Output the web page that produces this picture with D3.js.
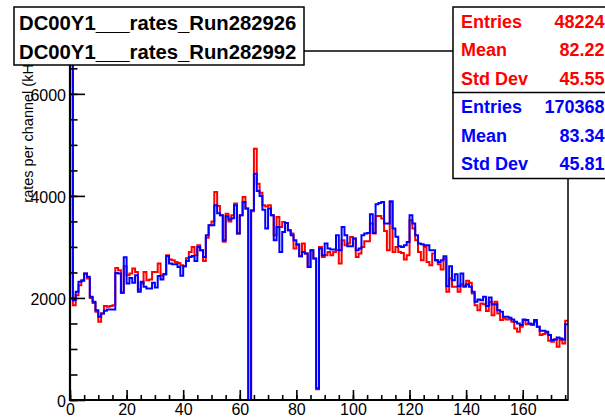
<!DOCTYPE html>
<html>
<head>
<meta charset="utf-8">
<script src="https://cdn.jsdelivr.net/npm/d3@7"></script>
<style>
  body { margin: 0; background: #fff; }
  svg { display: block; font-family: 'Liberation Sans', Arial, Helvetica, sans-serif; }
</style>
</head>
<body>
<div id="chart"></div>
<script>
// rates per channel, one value per channel (0..175)
const redRates = [
  6600, 1859, 2055, 2250, 2330, 2479, 2380, 2000, 1900, 1728,
  1533, 1696, 1840, 1826, 1840, 1859, 2589, 2544, 2100, 2620,
  2446, 2479, 2577, 2511, 2166, 2283, 2511, 2348, 2361, 2511,
  2511, 2675, 2440, 2466, 2838, 2752, 2740, 2707, 2687, 2642,
  2622, 2780, 2902, 2999, 2838, 3033, 2935, 2726, 3180, 3425,
  3500, 4077, 3800, 3620, 3100, 3650, 3500, 3620, 3850, 3262,
  3620, 3979, 3751, 0, 3700, 4925, 4240, 4060, 3816, 3790,
  3816, 3620, 3229, 3588, 3392, 3490, 3470, 3327, 3262, 2968,
  3046, 2818, 3066, 2870, 2609, 2935, 2772, 209, 3001, 2805,
  2838, 2903, 2838, 2903, 2935, 2675, 3131, 3033, 3066, 3196,
  3164, 2805, 2870, 3001, 3112, 3112, 3457, 3262, 3607, 3607,
  3555, 3314, 2935, 3881, 2903, 3000, 2903, 2883, 2753, 2838,
  3523, 3360, 3131, 2903, 2740, 3001, 2707, 2642, 2870, 2740,
  2662, 2557, 2772, 2120, 2381, 2218, 2218, 2120, 2270, 2218,
  2335, 2296, 2088, 1859, 1761, 1892, 1879, 1742, 1924, 1663,
  1924, 1696, 1566, 1598, 1578, 1578, 1533, 1402, 1337, 1435,
  1566, 1487, 1487, 1468, 1533, 1435, 1272, 1292, 1318, 1161,
  1142, 1187, 1044, 1174, 1109, 1553
];
const blueRates = [
  7500, 1957, 2120, 2316, 2348, 2479, 2414, 2022, 1924, 1761,
  1631, 1696, 1748, 1774, 1774, 1774, 2491, 2479, 2100, 2800,
  2283, 2393, 2296, 2446, 2120, 2316, 2218, 2185, 2185, 2296,
  2205, 2430, 2361, 2466, 2824, 2675, 2661, 2661, 2609, 2433,
  2622, 2726, 2805, 2824, 2726, 3000, 2935, 2805, 3229, 3425,
  3425, 3816, 3659, 3620, 3131, 3600, 3540, 3560, 3816, 3262,
  3620, 3880, 3751, 0, 3720, 4436, 4096, 4000, 3731, 3360,
  3751, 3620, 3131, 3392, 2903, 3294, 3470, 3327, 3229, 3131,
  3046, 2818, 2903, 2870, 2609, 2935, 2772, 228, 2968, 2838,
  3066, 2968, 2949, 2949, 3229, 2935, 3392, 3229, 3014, 3014,
  3164, 2935, 2968, 3229, 3262, 3275, 3640, 3275, 3836, 3862,
  3881, 3457, 3457, 3894, 3360, 3200, 3014, 3001, 3033, 3098,
  3620, 3457, 3229, 3066, 3053, 3033, 3033, 2935, 2935, 2740,
  2707, 2740, 2818, 2231, 2622, 2348, 2466, 2231, 2479, 2231,
  2270, 2218, 2120, 1924, 1970, 1957, 2022, 1840, 2009, 1872,
  1879, 1761, 1729, 1631, 1631, 1611, 1578, 1533, 1500, 1468,
  1578, 1566, 1500, 1487, 1566, 1435, 1357, 1357, 1337, 1272,
  1174, 1187, 1226, 1207, 1187, 1487
];
const xMajorTicks = [0, 20, 40, 60, 80, 100, 120, 140, 160];
const yMajorTicks = [0, 2000, 4000, 6000];
const titleLines = ['DC00Y1___rates_Run282926', 'DC00Y1___rates_Run282992'];
const redStats = [['Entries', '48224'], ['Mean', '82.22'], ['Std Dev', '45.55']];
const blueStats = [['Entries', '170368'], ['Mean', '83.34'], ['Std Dev', '45.81']];
const yTitle = 'rates per channel (kHz)';

const W = 605, H = 420;
const frame = { left: 70, right: 568, top: 51, bottom: 400 };
const nBins = redRates.length;
const yMax = 6840;

const svg = d3.select('#chart').append('svg').attr('width', W).attr('height', H);

const x = d3.scaleLinear().domain([0, nBins]).range([frame.left, frame.right]);
const y = d3.scaleLinear().domain([0, yMax]).range([frame.bottom, frame.top]);

// clip to the frame
svg.append('clipPath').attr('id', 'frame-clip')
  .append('rect')
  .attr('x', frame.left).attr('y', frame.top)
  .attr('width', frame.right - frame.left).attr('height', frame.bottom - frame.top);

// histograms as step outlines
const stepLine = d3.line()
  .x((d) => x(d[0]))
  .y((d) => y(d[1]))
  .curve(d3.curveStepAfter);

const toSteps = (vals) => vals.map((v, i) => [i, v]).concat([[vals.length, vals[vals.length - 1]]]);

const hists = svg.append('g').attr('clip-path', 'url(#frame-clip)');
hists.append('path')
  .datum(toSteps(redRates))
  .attr('fill', 'none').attr('stroke', '#ff0000').attr('stroke-width', 2)
  .attr('d', stepLine);
hists.append('path')
  .datum(toSteps(blueRates))
  .attr('fill', 'none').attr('stroke', '#0000ff').attr('stroke-width', 2)
  .attr('d', stepLine);

// y axis: ticks pointing into the frame
const yAxis = svg.append('g').attr('transform', `translate(${frame.left},0)`)
  .call(d3.axisLeft(y).tickValues(yMajorTicks).tickSizeInner(-15).tickSizeOuter(0).tickPadding(4).tickFormat(d3.format('d')));
yAxis.selectAll('text').attr('dy', '0.42em');
svg.append('g').attr('transform', `translate(${frame.left},0)`)
  .call(d3.axisLeft(y).tickValues(d3.range(0, yMax, 500)).tickSizeInner(-7.5).tickSizeOuter(0).tickFormat(''));

// x axis
svg.append('g').attr('transform', `translate(0,${frame.bottom})`)
  .call(d3.axisBottom(x).tickValues(xMajorTicks).tickSizeInner(-10).tickSizeOuter(0).tickPadding(3.5));
svg.append('g').attr('transform', `translate(0,${frame.bottom})`)
  .call(d3.axisBottom(x).tickValues(d3.range(0, nBins + 1, 5)).tickSizeInner(-5).tickSizeOuter(0).tickFormat(''));

svg.selectAll('.domain').remove();
svg.selectAll('.tick line').attr('stroke', '#000').attr('stroke-width', 1.6);
svg.selectAll('.tick text').attr('font-size', 16).attr('font-family', 'Liberation Sans, Arial, sans-serif').attr('fill', '#000');

// frame
svg.append('rect')
  .attr('x', frame.left).attr('y', frame.top)
  .attr('width', frame.right - frame.left).attr('height', frame.bottom - frame.top)
  .attr('fill', 'none').attr('stroke', '#000').attr('stroke-width', 1.5);
svg.append('line')
  .attr('x1', frame.left).attr('x2', frame.left).attr('y1', frame.top).attr('y2', frame.bottom + 1)
  .attr('stroke', '#000').attr('stroke-width', 2.2);
svg.append('line')
  .attr('x1', frame.left - 1).attr('x2', frame.right).attr('y1', frame.bottom).attr('y2', frame.bottom)
  .attr('stroke', '#000').attr('stroke-width', 2.2);

// y axis title
svg.append('text')
  .attr('transform', `translate(33,${frame.top + 1}) rotate(-90)`)
  .attr('text-anchor', 'end')
  .attr('font-size', 14.5)
  .text(yTitle);

// title box
const title = svg.append('g');
title.append('rect')
  .attr('x', 14).attr('y', 7).attr('width', 290).attr('height', 58)
  .attr('fill', '#fff').attr('stroke', '#000').attr('stroke-width', 1.5);
title.selectAll('text').data(titleLines).enter().append('text')
  .attr('x', 19).attr('y', (d, i) => 29.5 + i * 29)
  .attr('font-size', 20.3).attr('font-weight', 'bold')
  .text((d) => d);

// stats boxes
const drawStats = (rows, top, color) => {
  const g = svg.append('g');
  g.append('rect')
    .attr('x', 453).attr('y', top).attr('width', 170).attr('height', 86)
    .attr('fill', '#fff').attr('stroke', '#000').attr('stroke-width', 1.5);
  rows.forEach((r, i) => {
    const base = top + 20.5 + i * 28.5;
    g.append('text').attr('x', 461).attr('y', base)
      .attr('font-size', 18).attr('font-weight', 'bold').attr('fill', color).text(r[0]);
    g.append('text').attr('x', 604.5).attr('y', base).attr('text-anchor', 'end')
      .attr('font-size', 18).attr('font-weight', 'bold').attr('fill', color).text(r[1]);
  });
};
drawStats(redStats, 7, '#ff0000');
drawStats(blueStats, 92.5, '#0000ff');
</script>
</body>
</html>
